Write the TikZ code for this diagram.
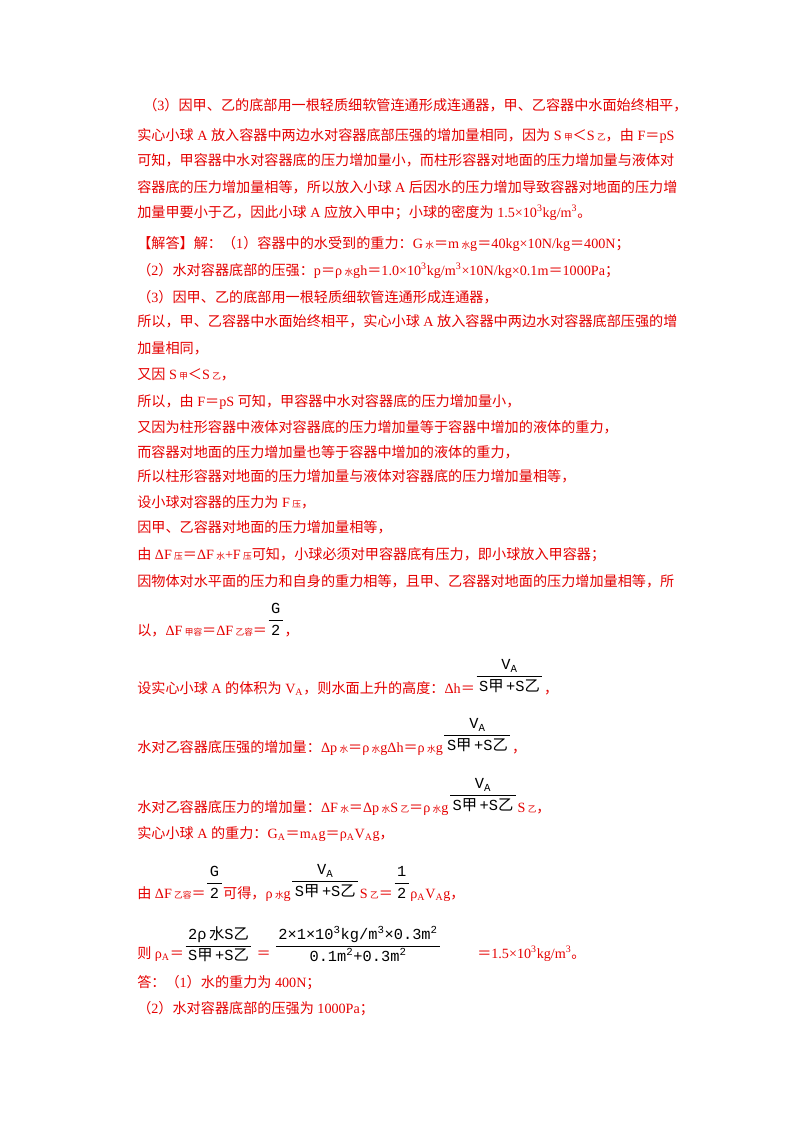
\documentclass[tikz,border=0pt]{standalone}
\usepackage{amsmath}
\usepackage{fontspec}
\setmainfont{Liberation Serif}
\newfontfamily\cjk{Noto Sans CJK SC}
\newfontfamily\fracfont{Liberation Mono}
% switch to the CJK font for Chinese characters
\XeTeXinterchartokenstate=1
\newXeTeXintercharclass\CJKcls
\count255="4E00
\loop\XeTeXcharclass\count255=\CJKcls\ifnum\count255<"9FFF\advance\count255 1\repeat
\count255="FF01
\loop\XeTeXcharclass\count255=\CJKcls\ifnum\count255<"FF5E\advance\count255 1\repeat
\count255="3000
\loop\XeTeXcharclass\count255=\CJKcls\ifnum\count255<"303F\advance\count255 1\repeat
\XeTeXinterchartoks 0 \CJKcls = {\begingroup\cjk}
\XeTeXinterchartoks 4095 \CJKcls = {\begingroup\cjk}
\XeTeXinterchartoks \CJKcls 0 = {\endgroup}
\XeTeXinterchartoks \CJKcls 4095 = {\endgroup}
\newcommand{\lsub}[1]{\,{\fontsize{6.5}{7}\selectfont #1}}
\newcommand{\bfr}[2]{\textcolor{black}{\fracfont\fontsize{11.5}{12}\selectfont$\dfrac{\text{\,#1\,}}{\text{\,#2\,}}$}}
\newcommand{\upfr}[2]{\raisebox{\depth}{\bfr{#1}{#2}}}
\newcommand{\Ssum}{S甲\,+S乙}

\begin{document}
\begin{tikzpicture}[x=0.75pt,y=-0.75pt]
  \tikzset{Line/.style={anchor=base west, inner sep=0pt, text=red!90!black, font=\fontsize{10.6}{12}\selectfont}}
  \useasboundingbox (0,0) rectangle (800,1132);
  \fill[white] (0,0) rectangle (800,1132);

  \node (l1) [Line] at (143,110) {（3）因甲、乙的底部用一根轻质细软管连通形成连通器，甲、乙容器中水面始终相平，};
  \node (l2) [Line] at (137,140) {实心小球 A 放入容器中两边水对容器底部压强的增加量相同，因为 S\lsub{甲}＜S\lsub{乙}，由 F＝pS};
  \node (l3) [Line] at (137,165) {可知，甲容器中水对容器底的压力增加量小，而柱形容器对地面的压力增加量与液体对};
  \node (l4) [Line] at (137,192) {容器底的压力增加量相等，所以放入小球 A 后因水的压力增加导致容器对地面的压力增};
  \node (l5) [Line] at (137,217) {加量甲要小于乙，因此小球 A 应放入甲中；小球的密度为 1.5×10\textsuperscript{3}kg/m\textsuperscript{3}。};
  \node (l6) [Line] at (137,248) {【解答】解：（1）容器中的水受到的重力：G\lsub{水}＝m\lsub{水}g＝40kg×10N/kg＝400N；};
  \node (l7) [Line] at (137,275) {（2）水对容器底部的压强：p＝ρ\lsub{水}gh＝1.0×10\textsuperscript{3}kg/m\textsuperscript{3}×10N/kg×0.1m＝1000Pa；};
  \node (l8) [Line] at (137,302) {（3）因甲、乙的底部用一根轻质细软管连通形成连通器，};
  \node (l9) [Line] at (137,326) {所以，甲、乙容器中水面始终相平，实心小球 A 放入容器中两边水对容器底部压强的增};
  \node (l10) [Line] at (137,353) {加量相同，};
  \node (l11) [Line] at (137,379) {又因 S\lsub{甲}＜S\lsub{乙}，};
  \node (l12) [Line] at (137,406) {所以，由 F＝pS 可知，甲容器中水对容器底的压力增加量小，};
  \node (l13) [Line] at (137,432) {又因为柱形容器中液体对容器底的压力增加量等于容器中增加的液体的重力，};
  \node (l14) [Line] at (137,457) {而容器对地面的压力增加量也等于容器中增加的液体的重力，};
  \node (l15) [Line] at (137,481) {所以柱形容器对地面的压力增加量与液体对容器底的压力增加量相等，};
  \node (l16) [Line] at (137,507) {设小球对容器的压力为 F\lsub{压}，};
  \node (l17) [Line] at (137,532) {因甲、乙容器对地面的压力增加量相等，};
  \node (l18) [Line] at (137,559) {由 ΔF\lsub{压}＝ΔF\lsub{水}+F\lsub{压}可知，小球必须对甲容器底有压力，即小球放入甲容器；};
  \node (l19) [Line] at (137,586) {因物体对水平面的压力和自身的重力相等，且甲、乙容器对地面的压力增加量相等，所};
  \node (l20) [Line] at (137,635) {以，ΔF\lsub{甲容}＝ΔF\lsub{乙容}＝\upfr{G}{2}，};
  \node (l21) [Line] at (137,693) {设实心小球 A 的体积为 V\textsubscript{A}，则水面上升的高度：Δh＝\upfr{V\textsubscript{A}}{\Ssum}，};
  \node (l22) [Line] at (137,752) {水对乙容器底压强的增加量：Δp\lsub{水}＝ρ\lsub{水}gΔh＝ρ\lsub{水}g\upfr{V\textsubscript{A}}{\Ssum}，};
  \node (l23) [Line] at (137,812) {水对乙容器底压力的增加量：ΔF\lsub{水}＝Δp\lsub{水}S\lsub{乙}＝ρ\lsub{水}g\upfr{V\textsubscript{A}}{\Ssum}S\lsub{乙}，};
  \node (l24) [Line] at (137,838) {实心小球 A 的重力：G\textsubscript{A}＝m\textsubscript{A}g＝ρ\textsubscript{A}V\textsubscript{A}g，};
  \node (l25) [Line] at (137,898) {由 ΔF\lsub{乙容}＝\upfr{G}{2}可得，ρ\lsub{水}g\upfr{V\textsubscript{A}}{\Ssum}S\lsub{乙}＝\upfr{1}{2}ρ\textsubscript{A}V\textsubscript{A}g，};
  \node (l26) [Line] at (137,958) {则 ρ\textsubscript{A}＝\raisebox{6pt}{\bfr{2ρ\,水S乙}{\Ssum}} ＝ \raisebox{6pt}{\bfr{2×1×10\textsuperscript{3}kg/m\textsuperscript{3}×0.3m\textsuperscript{2}}{0.1m\textsuperscript{2}+0.3m\textsuperscript{2}}}\hspace{2.5em}＝1.5×10\textsuperscript{3}kg/m\textsuperscript{3}。};
  \node (l27) [Line] at (137,987) {答：（1）水的重力为 400N；};
  \node (l28) [Line] at (137,1013) {（2）水对容器底部的压强为 1000Pa；};
\end{tikzpicture}
\end{document}
